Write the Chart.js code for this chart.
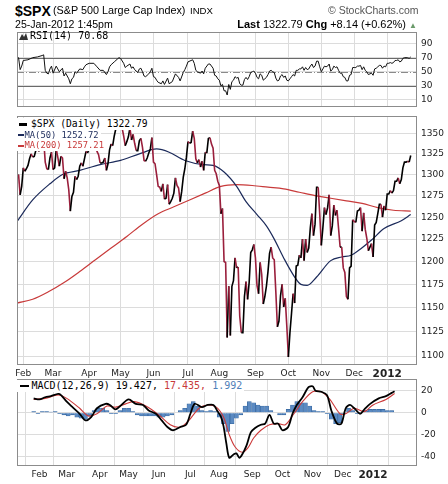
<!DOCTYPE html>
<html>
<head>
<meta charset="utf-8">
<script src="https://cdn.jsdelivr.net/npm/chart.js"></script>
<style>
  body { margin: 0; background: #fff; width: 448px; height: 484px; position: relative; overflow: hidden;
         font-family: "Liberation Sans", Arial, sans-serif; color: #000; }
  canvas { position: absolute; left: 0; }
  .t { position: absolute; white-space: nowrap; line-height: 1; }
  .box { background: #fff; }
  .mono { font-family: "DejaVu Sans Mono", monospace; }
  .dash { display: inline-block; height: 2.5px; vertical-align: middle; }
</style>
</head>
<body>
<canvas id="rsiChart" width="448" height="99" style="top:20px"></canvas>
<canvas id="priceChart" width="448" height="275" style="top:104px"></canvas>
<canvas id="macdChart" width="448" height="117" style="top:367px"></canvas>

<div class="t" style="left:15px;top:3.5px;font-size:14px;font-weight:bold">$SPX</div>
<div class="t" style="left:53px;top:5.4px;font-size:10.8px">(S&amp;P 500 Large Cap Index)</div>
<div class="t" style="left:190px;top:6.4px;font-size:9.6px">INDX</div>
<div class="t" style="left:328px;top:5px;font-size:10.5px;color:#555">© StockCharts.com</div>
<div class="t" style="left:15px;top:19.3px;font-size:10.6px">25-Jan-2012 1:45pm</div>
<div class="t" style="right:31px;top:19px;font-size:11px"><b>Last</b> 1322.79 <b>Chg</b> +8.14 (+0.62%) <span style="font-size:8px;color:#6a9a6a">▲</span></div>

<svg class="t" style="left:19px;top:33px" width="9" height="7"><polygon points="0,7 3,1 5,4 7,0 9,7" fill="#333"/></svg>
<div class="t mono" style="left:30px;top:31px;font-size:10px">RSI(14) 70.68</div>

<div class="t box mono" style="left:17px;top:118.3px;font-size:9.7px;padding:1px 2px 1px 2px"><span class="dash" style="width:8px;background:#000;margin-right:4px"></span>$SPX (Daily) 1322.79</div>
<div class="t box mono" style="left:17px;top:129.6px;font-size:8.8px;padding:1px 2px 1px 0.5px;color:#1b2a5a"><span class="dash" style="width:6px;background:#1b2a5a;margin-right:1px"></span>MA(50) 1252.72</div>
<div class="t box mono" style="left:17px;top:140.4px;font-size:8.8px;padding:1px 2px 1px 0.5px;color:#c83a3a"><span class="dash" style="width:6px;background:#c83a3a;margin-right:1px"></span>MA(200) 1257.21</div>

<div class="t box mono" style="left:17px;top:380.3px;font-size:10px;padding:0.5px 2px 1px 2.5px"><span class="dash" style="width:9px;background:#000;margin-right:3px"></span>MACD(12,26,9) 19.427, <span style="color:#c83a3a">17.435,</span> <span style="color:#4f80b8">1.992</span></div>

<script>
Chart.defaults.animation = false;
Chart.defaults.font.family = "DejaVu Sans";

// x = trading day index, 26-Jan-2011 .. 25-Jan-2012
const monthIdx = [4, 23, 46, 66, 87, 109, 129, 152, 173, 194, 215, 236];
const monthLabels = ["Feb", "Mar", "Apr", "May", "Jun", "Jul", "Aug", "Sep", "Oct", "Nov", "Dec", "2012"];

const spxClose = [
  1297, 1300, 1276, 1286,
  1308, 1304, 1307, 1311, 1319, 1325, 1321, 1322, 1329, 1332, 1328, 1336, 1340, 1343, 1315, 1307, 1306, 1320, 1327,
  1306, 1308, 1331, 1321, 1310, 1322, 1320, 1295, 1304, 1296, 1282, 1257, 1274, 1279, 1298, 1294, 1298, 1310, 1314, 1310, 1319, 1328, 1326,
  1332, 1333, 1333, 1336, 1334, 1328, 1324, 1314, 1314, 1315, 1320, 1305, 1313, 1330, 1337, 1335, 1347, 1356, 1360, 1364,
  1361, 1357, 1347, 1335, 1340, 1346, 1357, 1342, 1349, 1338, 1329, 1329, 1341, 1344, 1333, 1317, 1316, 1320, 1326, 1331, 1345,
  1315, 1313, 1300, 1286, 1285, 1280, 1289, 1271, 1272, 1288, 1265, 1268, 1272, 1278, 1296, 1287, 1284, 1268, 1280, 1297, 1307, 1321,
  1340, 1338, 1339, 1353, 1344, 1319, 1314, 1318, 1309, 1316, 1305, 1327, 1326, 1344, 1345, 1337, 1332, 1305, 1301, 1292,
  1287, 1254, 1260, 1200, 1199, 1119, 1173, 1121, 1173, 1179, 1204, 1193, 1194, 1141, 1124, 1124, 1162, 1178, 1159, 1177, 1210, 1213, 1219,
  1204, 1174, 1165, 1199, 1186, 1154, 1162, 1173, 1189, 1209, 1216, 1204, 1202, 1167, 1130, 1136, 1163, 1175, 1151, 1160, 1131,
  1099, 1124, 1144, 1165, 1155, 1195, 1196, 1207, 1204, 1225, 1201, 1225, 1210, 1215, 1238, 1254, 1229, 1242, 1285, 1285, 1253,
  1218, 1238, 1261, 1253, 1261, 1276, 1229, 1240, 1264, 1252, 1258, 1237, 1216, 1216, 1193, 1188, 1162, 1159, 1193, 1195, 1247,
  1245, 1244, 1257, 1258, 1261, 1234, 1255, 1236, 1226, 1212, 1216, 1220, 1205, 1241, 1244, 1254, 1265, 1265, 1250, 1263, 1258,
  1277, 1277, 1281, 1278, 1281, 1292, 1292, 1296, 1289, 1294, 1308, 1315, 1315, 1316, 1315, 1323
];

const ma50Idx = [0, 10, 21, 29, 40, 53, 66, 78, 89, 97, 107, 119, 125, 132, 140, 146, 153, 159, 164, 170, 177, 181, 185, 191, 200, 207, 213, 219, 226, 234, 245, 251];
const ma50Val = [1245, 1270, 1289, 1300, 1305, 1312, 1317, 1325, 1331, 1327, 1317, 1312, 1311, 1303, 1286, 1268, 1253, 1240, 1225, 1204, 1183, 1175, 1174, 1183, 1201, 1205, 1207, 1214, 1224, 1237, 1246, 1253];

const ma200Idx = [0, 10, 20, 30, 40, 50, 60, 70, 80, 90, 100, 110, 120, 130, 140, 150, 160, 170, 180, 190, 200, 210, 220, 230, 240, 251];
const ma200Val = [1155, 1159, 1167, 1177, 1189, 1202, 1215, 1228, 1242, 1254, 1262, 1270, 1278, 1286, 1288, 1287, 1285, 1283, 1279, 1275, 1272, 1269, 1266, 1261, 1258, 1257];

const rsiIdx = [0, 1, 2, 3, 4, 7, 10, 13, 16, 17, 18, 19, 20, 21, 22, 23, 25, 26, 27, 29, 30, 31, 33, 34, 35, 36, 37, 38, 40, 42, 43, 44, 46, 49, 51, 53, 55, 57, 58, 59, 60, 62, 64, 65, 66, 68, 69, 70, 72, 73, 74, 75, 77, 78, 79, 80, 81, 82, 84, 85, 86, 87, 88, 89, 90, 92, 93, 94, 96, 97, 99, 101, 103, 104, 106, 107, 108, 109, 112, 113, 114, 115, 117, 118, 119, 120, 122, 123, 125, 126, 127, 128, 129, 130, 131, 132, 133, 134, 135, 136, 137, 138, 139, 140, 141, 142, 143, 144, 145, 146, 147, 148, 149, 150, 151, 152, 153, 154, 155, 156, 157, 158, 159, 160, 161, 162, 163, 164, 165, 166, 167, 168, 169, 170, 171, 172, 173, 174, 175, 176, 177, 178, 179, 180, 181, 182, 183, 184, 185, 186, 187, 188, 189, 190, 191, 192, 193, 194, 195, 196, 197, 198, 199, 200, 201, 202, 203, 204, 205, 206, 207, 208, 209, 210, 211, 212, 213, 214, 215, 216, 217, 218, 219, 220, 221, 222, 223, 224, 225, 226, 227, 228, 229, 230, 231, 232, 233, 234, 235, 236, 237, 238, 239, 240, 241, 242, 243, 244, 245, 246, 247, 248, 249, 250, 251];
const rsiVal = [68, 70, 53, 58, 66, 67, 70, 71, 73, 74, 52, 48, 47, 54, 58, 48, 58, 54, 50, 55, 44, 48, 40, 33, 40, 42, 50, 48, 54, 53, 57, 60, 62, 62, 57, 52, 52, 46, 50, 57, 60, 64, 68, 70, 69, 62, 56, 58, 61, 55, 57, 53, 49, 54, 55, 50, 44, 43, 47, 50, 55, 43, 42, 38, 35, 33, 37, 32, 41, 33, 36, 47, 42, 37, 49, 53, 58, 64, 67, 62, 52, 50, 48, 51, 47, 55, 61, 61, 55, 45, 44, 40, 38, 30, 32, 23, 23, 17, 32, 25, 36, 38, 43, 41, 42, 33, 31, 31, 39, 42, 39, 43, 49, 50, 51, 48, 42, 40, 47, 45, 38, 40, 42, 46, 51, 52, 50, 49, 41, 37, 38, 44, 46, 42, 44, 38, 37, 40, 43, 46, 44, 52, 52, 54, 54, 57, 52, 56, 53, 54, 58, 61, 56, 58, 65, 65, 57, 50, 54, 58, 57, 58, 61, 51, 53, 58, 56, 57, 52, 48, 48, 43, 42, 37, 37, 45, 46, 56, 56, 56, 58, 58, 59, 53, 57, 52, 50, 46, 47, 48, 45, 54, 55, 57, 59, 59, 55, 58, 57, 62, 62, 63, 62, 63, 66, 66, 67, 64, 65, 69, 70, 70, 70, 69, 71];

const macdIdx = [0, 4, 8, 12, 17, 19, 23, 27, 32, 36, 40, 44, 50, 53, 57, 61, 66, 71, 76, 80, 85, 89, 93, 97, 102, 106, 109, 112, 117, 121, 125, 128, 130, 132, 134, 136, 139, 141, 143, 145, 148, 151, 154, 158, 161, 164, 167, 170, 173, 177, 180, 183, 187, 191, 194, 196, 200, 204, 207, 211, 214, 217, 220, 223, 227, 230, 234, 240, 245, 249, 251];
const macdVal = [13, 12, 14, 15, 17, 16, 10, 5, -1, -7, -4, 4, 8, 7, 3, 7, 12, 8, 7, 2, -1, -7, -13, -16, -13, -11, -1, 8, 5, 7, 7, 1, -3, -12, -28, -41, -38, -37, -41, -38, -30, -18, -14, -11, -10, -2, -10, -10, -16, -13, -1, 7, 14, 23, 24, 20, 19, 16, 2, -10, -10, 4, 7, 4, -1, 3, 8, 13, 15, 18, 19.4];

const sigIdx = [0, 8, 17, 23, 32, 38, 44, 51, 57, 64, 70, 78, 87, 95, 102, 108, 115, 121, 127, 132, 136, 140, 145, 149, 153, 158, 164, 170, 175, 181, 187, 194, 200, 206, 213, 217, 223, 230, 236, 245, 251];
const sigVal = [12, 13, 16, 13, 4, -3, -1, 6, 5, 8, 10, 6, -2, -11, -13, -7, 4, 7, 5, -4, -20, -31, -36, -32, -23, -16, -11, -10, -11, -1, 10, 19, 19, 12, -1, -1, 4, 1, 7, 12, 17.4];

const histIdx = [0, 3, 6, 9, 12, 15, 18, 21, 24, 27, 30, 33, 36, 39, 42, 45, 48, 51, 54, 57, 60, 63, 66, 69, 72, 75, 78, 81, 84, 87, 90, 93, 96, 99, 102, 105, 108, 111, 114, 117, 120, 123, 126, 129, 132, 135, 138, 141, 144, 147, 150, 153, 156, 159, 162, 165, 168, 171, 174, 177, 180, 183, 186, 189, 192, 195, 198, 201, 204, 207, 210, 213, 216, 219, 222, 225, 228, 231, 234, 237, 240, 243, 246, 249];
const histVal = [1, -1, 1, 1, 0.5, 1, -1, -2, -3, -2, -4, -5, -6, -3, 2, 4, 4, 2, -1, -1, 2, 4, 4, 1, -2, -3, -3, -3, -3, -4, -4, -3, -2, 0, 2, 4, 8, 10, 6, 2, 1, 2, 1, -4, -10, -17, -10, -5, -2, 6, 10, 9, 7, 6, 6, 2, 0, -2, -2, 3, 7, 10, 9, 9, 6, 2, 1, 1, -1, -6, -10, -9, -1, 4, 2, -1, 0, 2, 3, 3, 3, 3, 2, 2];

const priceTicks = [1100, 1125, 1150, 1175, 1200, 1225, 1250, 1275, 1300, 1325, 1350];
const rsiTicks = [10, 30, 50, 70, 90];
const macdTicks = [-40, -20, 0, 20];

const zip = (xs, ys) => xs.map((x, i) => ({ x: x, y: ys[i] }));
const gridColor = "#dcdcdc";
const tickFont = { family: "DejaVu Sans", size: 9 };

function timeAxis(band) {
  return {
    type: "linear", min: 0, max: 255,
    afterBuildTicks: s => { s.ticks = monthIdx.map(v => ({ value: v })); },
    afterFit: s => { s.height = band; },
    grid: { color: gridColor, drawTicks: false },
    border: { display: false },
    ticks: {
      display: band > 0, autoSkip: false, maxRotation: 0, padding: 3, color: "#222",
      font: c => c.index === monthLabels.length - 1
        ? { family: "DejaVu Sans", size: 10.5, weight: "bold" }
        : tickFont,
      callback: (v, i) => monthLabels[i]
    }
  };
}

function valueAxis(type, min, max, ticks) {
  return {
    type: type, position: "right", min: min, max: max,
    afterBuildTicks: s => { s.ticks = ticks.map(v => ({ value: v })); },
    afterFit: s => { s.width = 31; },
    grid: { color: gridColor, drawTicks: false },
    border: { display: false },
    ticks: { padding: 4, color: "#222", font: tickFont, callback: v => String(v) }
  };
}

// panel frame + RSI reference lines
const panel = {
  id: "panel",
  beforeDatasetsDraw(chart, args, opts) {
    if (!opts.levels) return;
    const a = chart.chartArea, c = chart.ctx, y = chart.scales.y;
    c.save();
    opts.levels.forEach(l => {
      const py = Math.round(y.getPixelForValue(l.v)) + 0.5;
      c.strokeStyle = l.color;
      c.lineWidth = 1;
      c.setLineDash(l.dash || []);
      c.beginPath(); c.moveTo(a.left, py); c.lineTo(a.right, py); c.stroke();
    });
    c.restore();
  },
  afterDraw(chart) {
    const a = chart.chartArea, c = chart.ctx;
    c.save();
    c.strokeStyle = "#8c8c8c";
    c.lineWidth = 1;
    c.strokeRect(a.left + 0.5, a.top + 0.5, a.right - a.left - 1, a.bottom - a.top - 1);
    c.restore();
  }
};

const noLegend = { legend: { display: false }, tooltip: { enabled: false } };

new Chart(document.getElementById("rsiChart"), {
  type: "line",
  data: {
    datasets: [{
      data: zip(rsiIdx, rsiVal),
      borderColor: "#111", borderWidth: 1, pointRadius: 0, tension: 0
    }]
  },
  options: {
    responsive: false,
    layout: { padding: { left: 17, right: 0, top: 12, bottom: 12 } },
    scales: { x: timeAxis(0), y: valueAxis("linear", 0, 106.4, rsiTicks) },
    plugins: Object.assign({
      panel: { levels: [
        { v: 70, color: "#6a6a6a" },
        { v: 30, color: "#6a6a6a" },
        { v: 50, color: "#8a8a8a", dash: [7, 2, 1, 2] }
      ] }
    }, noLegend)
  },
  plugins: [panel]
});

const downRed = "#9a1f3c";
new Chart(document.getElementById("priceChart"), {
  type: "line",
  data: {
    datasets: [
      {
        data: spxClose.map((v, i) => ({ x: i, y: v })),
        borderColor: "#000", borderWidth: 1.6, pointRadius: 0, tension: 0,
        segment: { borderColor: c => c.p1.parsed.y < c.p0.parsed.y ? downRed : "#000" }
      },
      {
        data: zip(ma50Idx, ma50Val),
        borderColor: "#1b2a5a", borderWidth: 1.2, pointRadius: 0, cubicInterpolationMode: "monotone"
      },
      {
        data: zip(ma200Idx, ma200Val),
        borderColor: "#c83a3a", borderWidth: 1.2, pointRadius: 0, cubicInterpolationMode: "monotone"
      }
    ]
  },
  options: {
    responsive: false,
    layout: { padding: { left: 17, right: 0, top: 12, bottom: 0 } },
    scales: { x: timeAxis(14), y: valueAxis("logarithmic", 1091, 1372, priceTicks) },
    plugins: Object.assign({ panel: {} }, noLegend)
  },
  plugins: [panel]
});

new Chart(document.getElementById("macdChart"), {
  type: "line",
  data: {
    datasets: [
      {
        data: zip(macdIdx, macdVal),
        borderColor: "#000", borderWidth: 1.8, pointRadius: 0, tension: 0.3
      },
      {
        data: zip(sigIdx, sigVal),
        borderColor: "#cc3a3a", borderWidth: 1.1, pointRadius: 0, tension: 0.3
      },
      {
        type: "bar",
        data: zip(histIdx, histVal),
        backgroundColor: "#5b8ac2", borderColor: "#33649c", borderWidth: 0.6, barThickness: 4
      }
    ]
  },
  options: {
    responsive: false,
    layout: { padding: { left: 17, right: 0, top: 12, bottom: 0 } },
    scales: { x: timeAxis(18), y: valueAxis("linear", -48.5, 30.6, macdTicks) },
    plugins: Object.assign({ panel: {} }, noLegend)
  },
  plugins: [panel]
});
</script>
</body>
</html>
